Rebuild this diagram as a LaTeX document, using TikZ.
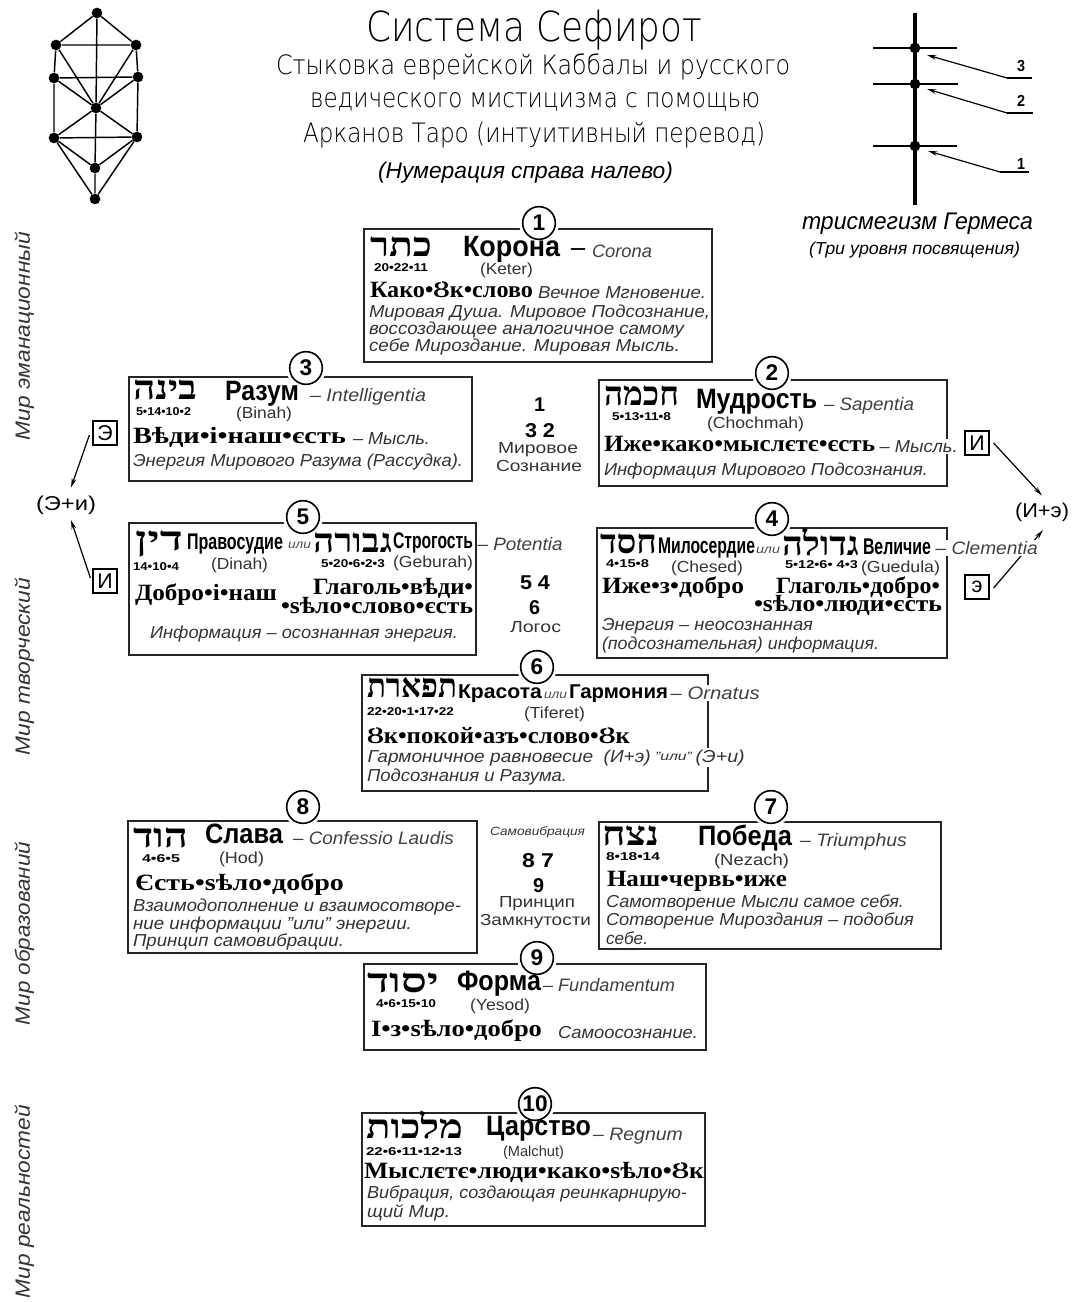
\documentclass[tikz,border=0pt]{standalone}
\usepackage{fontspec}
\usepackage{graphicx}
\usetikzlibrary{arrows.meta}
\setmainfont{Liberation Sans}
\newfontfamily\slavf{Liberation Serif}
\newfontfamily\hebf[Script=Hebrew]{Liberation Serif}
\newfontfamily\thinf{DejaVu Sans}[UprightFont=* ExtraLight]
\TeXXeTstate=1
\newcounter{tn}
\newlength\tw
\newcommand\sz[1]{\fontsize{#1}{#1}\selectfont}
% generic text: name, x, y(baseline), width px, font, text
\newcommand\TN[6]{\setlength{\tw}{\dimexpr #4pt*3/4\relax}%
  \node[txt] (#1) at (#2,#3) {\resizebox{\tw}{\height}{#5\relax #6}};}
\newcommand\T[5]{\stepcounter{tn}\TN{t\arabic{tn}}{#1}{#2}{#3}{#4}{#5}}
\newcommand\TW[5]{\stepcounter{tn}\setlength{\tw}{\dimexpr #3pt*3/4\relax}%
  \node[txt,fill=white,inner xsep=0.5pt,inner ysep=1pt] (t\arabic{tn}) at (#1,#2) {\resizebox{\tw}{\height}{#4\relax #5}};}
\newcommand\It[4]{\T{#1}{#2}{#3}{\sz{13}\itshape\color{black!80}}{#4}}
\newcommand\Lat[4]{\T{#1}{#2}{#3}{\sz{13.5}\itshape\color{black!75}}{#4}}
\newcommand\Sub[4]{\T{#1}{#2}{#3}{\sz{12}\color{black!80}}{#4}}
\newcommand\Nm[4]{\T{#1}{#2}{#3}{\sz{8.5}\bfseries}{#4}}
\newcommand\Bd[5]{\T{#1}{#2}{#3}{\sz{#4}\bfseries}{#5}}
\newcommand\Sl[4]{\T{#1}{#2}{#3}{\slavf\bfseries\sz{17.5}}{#4}}
\newcommand\Hb[4]{\T{#1}{#2}{#3}{\hebf\bfseries\sz{25}}{\beginR #4\endR}}
\newcommand\Ili[3]{\T{#1}{#2}{#3}{\sz{9}\itshape\color{black!70}}{или}}
\newcommand\Rt[4]{\stepcounter{tn}\setlength{\tw}{\dimexpr #3pt*3/4\relax}%
  \node[txt,rotate=90] (t\arabic{tn}) at (#1,#2) {\resizebox{\tw}{\height}{\sz{15.5}\itshape\color{black!80}\relax #4}};}
\newcommand\Bx[5]{\node[sefbox,minimum width={(#4-#2)*0.75pt},minimum height={(#5-#3)*0.75pt}] (#1) at ({(#2+#4)/2},{(#3+#5)/2}) {};}
\newcommand\Nc[4]{\fill[white] (#2,#3) circle (20);\node[numc] (#1) at (#2,#3) {#4};}
\tikzset{
  txt/.style={anchor=base west,inner sep=0pt,outer sep=0pt},
  sefbox/.style={draw=black!85,line width=1.1pt,fill=white,inner sep=0pt,outer sep=0pt},
  numc/.style={circle,draw=black,line width=1.2pt,fill=white,minimum size=24.5pt,inner sep=0pt,font=\sz{17}\bfseries},
  lbox/.style={draw=black,line width=0.9pt,fill=white,minimum size=18pt,inner sep=0pt,font=\sz{16}},
  tdot/.style={circle,fill=black,inner sep=0pt,minimum size=8pt},
  tline/.style={line width=1.1pt},
  hbar/.style={line width=2pt},
  arr/.style={line width=0.9pt,-{Stealth[length=7pt,width=3.5pt]}}
}
\begin{document}
\begin{tikzpicture}[x=0.75pt,y=-0.75pt]
\useasboundingbox (0,0) rectangle (1073,1302);
% tree
\node[tdot] (a0) at (97,13) {};
\node[tdot] (a1) at (56,45) {};
\node[tdot] (a2) at (136,45) {};
\node[tdot] (a3) at (54,78) {};
\node[tdot] (a4) at (138,77) {};
\node[tdot] (a5) at (96,108) {};
\node[tdot] (a6) at (54,138) {};
\node[tdot] (a7) at (137,137) {};
\node[tdot] (a8) at (95,168) {};
\node[tdot] (a9) at (95,199) {};
\draw[tline] (a0)--(a1) (a0)--(a2) (a0)--(a5) (a5)--(a8) (a8)--(a9)
  (a1)--(a3) (a3)--(a6) (a2)--(a4) (a4)--(a7)
  (a1)--(a5) (a2)--(a5) (a3)--(a5) (a4)--(a5) (a5)--(a6) (a5)--(a7)
  (a6)--(a8) (a7)--(a8) (a6)--(a9) (a7)--(a9)
  (a1)--(a2) (a3)--(a4) (a6)--(a7);
% title
\T{366}{42}{336}{\thinf\sz{31}}{Система Сефирот}
\T{276}{75}{514}{\thinf\sz{20}}{Стыковка еврейской Каббалы и русского}
\T{310}{108}{450}{\thinf\sz{20}}{ведического мистицизма с помощью}
\T{303}{143}{462}{\thinf\sz{20}}{Арканов Таро (интуитивный перевод)}
\T{378}{179}{295}{\sz{17}\itshape}{(Нумерация справа налево)}
% Hermes
\coordinate (ht) at (915,13);
\coordinate (hb) at (915,205);
\draw[line width=2.4pt] (ht)--(hb);
\node[tdot] (h3) at (915,48) {};
\node[tdot] (h2) at (915,84) {};
\node[tdot] (h1) at (915,146) {};
\coordinate (b3l) at (873,48); \coordinate (b3r) at (957,48);
\coordinate (b2l) at (873,84); \coordinate (b2r) at (958,84);
\coordinate (b1l) at (873,146); \coordinate (b1r) at (957,146);
\draw[hbar] (b3l)--(b3r) (b2l)--(b2r) (b1l)--(b1r);
\coordinate (l3) at (1007,78); \coordinate (l3e) at (1032,78);
\coordinate (l2) at (1007,113); \coordinate (l2e) at (1033,113);
\coordinate (l1) at (1000,172); \coordinate (l1e) at (1029,172);
\coordinate (q3) at (927,55); \coordinate (q2) at (927,89); \coordinate (q1) at (928,151);
\draw[line width=1.3pt] (l3)--(l3e) (l2)--(l2e) (l1)--(l1e);
\draw[arr] (l3)--(q3);
\draw[arr] (l2)--(q2);
\draw[arr] (l1)--(q1);
\T{1017}{72}{8}{\sz{12}\bfseries}{3}
\T{1017}{107}{8}{\sz{12}\bfseries}{2}
\T{1017}{170}{8}{\sz{12}\bfseries}{1}
\T{802}{229}{231}{\sz{18}\itshape}{трисмегизм Гермеса}
\T{809}{254}{211}{\sz{13}\itshape}{(Три уровня посвящения)}
% world labels
\Rt{30}{440}{208}{Мир эманационный}
\Rt{30}{755}{177}{Мир творческий}
\Rt{30}{1025}{183}{Мир образований}
\Rt{30}{1298}{193}{Мир реальностей}
% boxes
\Bx{s1}{364}{229}{712}{362}
\Bx{s3}{129}{377}{472}{481}
\Bx{s2}{599}{380}{947}{486}
\Bx{s5}{129}{523}{476}{655}
\Bx{s4}{597}{528}{947}{658}
\Bx{s6}{362}{675}{708}{791}
\Bx{s8}{128}{821}{477}{953}
\Bx{s7}{599}{822}{941}{949}
\Bx{s9}{364}{964}{706}{1050}
\Bx{s10}{362}{1113}{705}{1226}
\Nc{c1}{539}{223}{1}
\Nc{c3}{306}{368}{3}
\Nc{c2}{772}{373}{2}
\Nc{c5}{303}{517}{5}
\Nc{c4}{772}{519}{4}
\Nc{c6}{537}{667}{6}
\Nc{c8}{303}{807}{8}
\Nc{c7}{771}{807}{7}
\Nc{c9}{537}{958}{9}
\Nc{c10}{535}{1104}{10}
% box 1
\Hb{370}{256}{62}{כתר}
\Nm{374}{271}{54}{20•22•11}
\Bd{463}{256}{97}{22}{Корона}
\Bd{570}{254}{16}{14}{–}
\Lat{592}{257}{60}{Corona}
\Sub{480}{274}{53}{(Keter)}
\Sl{370}{297}{163}{Како•Ȣк•слово}
\It{538}{298}{168}{Вечное Мгновение.}
\It{369}{317}{341}{Мировая Душа. Мировое Подсознание,}
\It{369}{334}{315}{воссоздающее аналогичное самому}
\It{369}{351}{311}{себе Мироздание. Мировая Мысль.}
% box 3
\Hb{133}{399}{64}{בינה}
\Nm{136}{415}{55}{5•14•10•2}
\Bd{225}{400}{74}{21}{Разум}
\Lat{310}{401}{116}{– Intelligentia}
\Sub{236}{418}{56}{(Binah)}
\Sl{133}{443}{213}{Вѣди•і•наш•єсть}
\It{353}{444}{77}{– Мысль.}
\It{133}{466}{330}{Энергия Мирового Разума (Рассудка).}
% box 2
\Hb{604}{405}{75}{חכמה}
\Nm{612}{420}{59}{5•13•11•8}
\Bd{696}{408}{121}{21}{Мудрость}
\Lat{824}{410}{90}{– Sapentia}
\Sub{707}{428}{97}{(Chochmah)}
\Sl{604}{451}{271}{Иже•како•мыслєтє•єсть}
\TW{879}{452}{78}{\sz{13}\itshape\color{black!80}}{– Мысль.}
\It{604}{475}{324}{Информация Мирового Подсознания.}
% box 5
\Hb{135}{550}{48}{דין}
\Nm{133}{570}{46}{14•10•4}
\Bd{187}{549}{96}{17}{Правосудие}
\Ili{288}{548}{23}
\Hb{313}{552}{79}{גבורה}
\Bd{393}{548}{80}{17}{Строгость}
\TW{477}{550}{85}{\sz{13.5}\itshape\color{black!75}}{– Potentia}
\Sub{211}{569}{57}{(Dinah)}
\Nm{321}{567}{64}{5•20•6•2•3}
\Sub{393}{567}{80}{(Geburah)}
\Sl{135}{600}{142}{Добро•і•наш}
\Sl{313}{594}{160}{Глаголь•вѣди•}
\Sl{281}{613}{192}{•ѕѣло•слово•єсть}
\It{150}{638}{308}{Информация – осознанная энергия.}
% box 4
\Hb{600}{553}{57}{חסד}
\Nm{606}{567}{43}{4•15•8}
\Bd{658}{553}{97}{17}{Милосердие}
\Ili{756}{553}{24}
\Hb{782}{555}{77}{גדולה}
\Bd{863}{554}{68}{17}{Величие}
\Sub{671}{572}{72}{(Chesed)}
\Nm{785}{568}{73}{5•12•6• 4•3}
\Sub{861}{572}{79}{(Guedula)}
\Sl{602}{593}{142}{Иже•з•добро}
\Sl{776}{593}{164}{Глаголь•добро•}
\Sl{754}{611}{188}{•ѕѣло•люди•єсть}
\It{602}{630}{211}{Энергия – неосознанная}
\It{602}{649}{277}{(подсознательная) информация.}
% box 6
\Hb{367}{697}{90}{תפארת}
\Nm{367}{715}{87}{22•20•1•17•22}
\Bd{458}{698}{84}{15}{Красота}
\Ili{544}{698}{23}
\Bd{569}{698}{99}{15}{Гармония}
\TW{670}{699}{89}{\sz{13.5}\itshape\color{black!75}}{– Ornatus}
\Sub{524}{718}{61}{(Tiferet)}
\Sl{367}{743}{263}{Ȣк•покой•азъ•слово•Ȣк}
\TW{367}{762}{283}{\sz{13}\itshape\color{black!80}}{Гармоничное равновесие\ \ (И+э)}
\T{655}{760}{37}{\sz{9}\itshape\color{black!80}}{"или"}
\TW{695}{762}{49}{\sz{13}\itshape\color{black!80}}{(Э+и)}
\It{367}{781}{200}{Подсознания и Разума.}
% box 8
\Hb{133}{847}{55}{הוד}
\Nm{142}{862}{38}{4•6•5}
\Bd{205}{843}{78}{21}{Слава}
\Lat{293}{844}{161}{– Confessio Laudis}
\Sub{219}{863}{45}{(Hod)}
\Sl{135}{890}{209}{Єсть•ѕѣло•добро}
\It{133}{911}{328}{Взаимодополнение и взаимосотворе-}
\It{133}{929}{279}{ние информации "или" энергии.}
\It{133}{946}{211}{Принцип самовибрации.}
% box 7
\Hb{602}{845}{57}{נצח}
\Nm{606}{860}{54}{8•18•14}
\Bd{698}{845}{94}{21}{Победа}
\Lat{800}{846}{107}{– Triumphus}
\Sub{714}{865}{75}{(Nezach)}
\Sl{607}{886}{180}{Наш•червь•иже}
\It{606}{907}{298}{Самотворение Мысли самое себя.}
\It{606}{925}{308}{Сотворение Мироздания – подобия}
\It{606}{944}{42}{себе.}
% box 9
\Hb{367}{992}{72}{יסוד}
\Nm{376}{1007}{60}{4•6•15•10}
\Bd{457}{990}{84}{21}{Форма}
\Lat{543}{991}{132}{– Fundamentum}
\Sub{470}{1010}{60}{(Yesod)}
\Sl{371}{1036}{171}{І•з•ѕѣло•добро}
\It{558}{1038}{140}{Самоосознание.}
% box 10
\Hb{366}{1138}{97}{מלכות}
\Nm{366}{1155}{96}{22•6•11•12•13}
\Bd{486}{1135}{105}{21}{Царство}
\Lat{593}{1140}{90}{– Regnum}
\T{503}{1156}{61}{\sz{11}\color{black!80}}{(Malchut)}
\Sl{364}{1178}{340}{Мыслєтє•люди•како•ѕѣло•Ȣк}
\It{367}{1198}{320}{Вибрация, создающая реинкарнирую-}
\It{367}{1217}{83}{щий Мир.}
% centre texts
\Bd{534}{411}{11}{15}{1}
\Bd{525}{437}{30}{15}{3 2}
\Sub{498}{453}{80}{Мировое}
\Sub{496}{471}{86}{Сознание}
\Bd{520}{589}{30}{15}{5 4}
\Bd{529}{614}{11}{15}{6}
\Sub{510}{632}{51}{Логос}
\T{490}{835}{95}{\sz{9}\itshape\color{black!80}}{Самовибрация}
\Bd{522}{867}{32}{15}{8 7}
\Bd{533}{892}{11}{15}{9}
\Sub{499}{907}{76}{Принцип}
\Sub{480}{925}{111}{Замкнутости}
% side elements
\node[lbox] (e1) at (105,433) {Э};
\node[lbox] (i1) at (105,581) {И};
\TN{ei}{36}{510}{60}{\sz{15}}{(Э+и)}
\draw[arr] ([shift={(-3,2)}]e1.west) -- ([shift={(5,-8)}]ei.north);
\draw[arr] ([shift={(-2,-3)}]i1.west) -- ([shift={(5,6)}]ei.south);
\node[lbox] (i2) at (977,443) {И};
\node[lbox] (e2) at (977,587) {э};
\TN{ie}{1015}{517}{54}{\sz{15}}{(И+э)}
\draw[arr] ([shift={(4,0)}]i2.east) -- ([shift={(0,-7)}]ie.north);
\draw[arr] ([shift={(4,1)}]e2.east) -- ([shift={(1,9)}]ie.south);
\TW{935}{554}{102}{\sz{13.5}\itshape\color{black!75}}{– Clementia}
\end{tikzpicture}
\end{document}
